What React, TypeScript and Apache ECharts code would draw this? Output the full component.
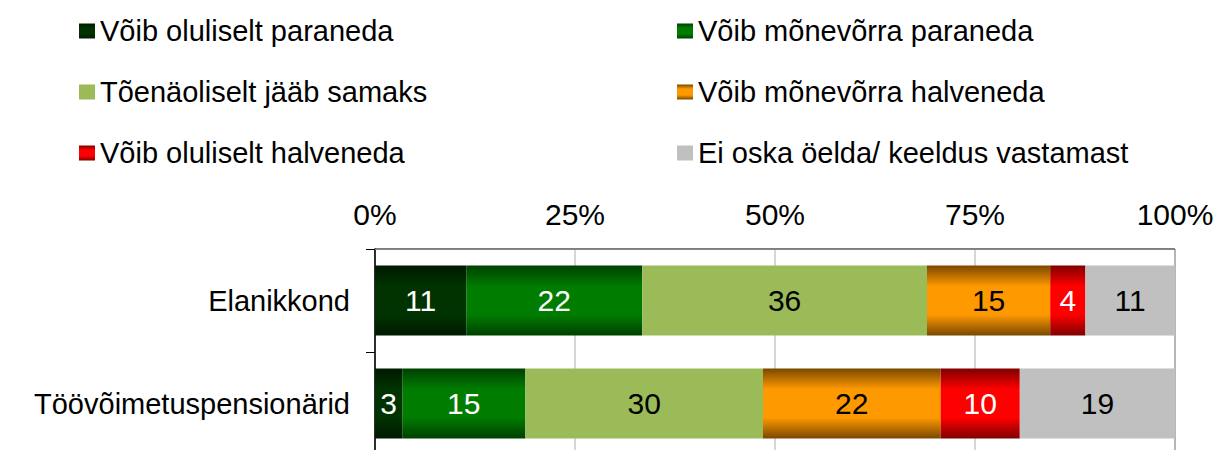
import React, { useEffect, useRef } from "react";
import * as echarts from "echarts";

const categories = ["Elanikkond", "Töövõimetuspensionärid"];
const seriesNames = [
  "Võib oluliselt paraneda",
  "Võib mõnevõrra paraneda",
  "Tõenäoliselt jääb samaks",
  "Võib mõnevõrra halveneda",
  "Võib oluliselt halveneda",
  "Ei oska öelda/ keeldus vastamast",
];
const oluliseltParaneda = [11.4, 3.4];
const monevorraParaneda = [22.0, 15.4];
const jaabSamaks = [35.6, 29.7];
const monevorraHalveneda = [15.4, 22.2];
const oluliseltHalveneda = [4.4, 9.9];
const eiOska = [11.2, 19.4];
const xTicks = [0, 25, 50, 75, 100];

const FONT = "'Liberation Sans', Arial, sans-serif";

function grad(edge: string, mid: string) {
  return new echarts.graphic.LinearGradient(0, 0, 0, 1, [
    { offset: 0, color: edge },
    { offset: 0.3, color: mid },
    { offset: 0.7, color: mid },
    { offset: 1, color: edge },
  ]);
}

export default function App() {
  const ref = useRef<HTMLDivElement>(null);
  useEffect(() => {
    if (!ref.current) return;
    const chart = echarts.init(ref.current, undefined, { renderer: "svg" });
    const values = [
      oluliseltParaneda,
      monevorraParaneda,
      jaabSamaks,
      monevorraHalveneda,
      oluliseltHalveneda,
      eiOska,
    ];
    const colors = [
      grad("#001a00", "#003300"),
      grad("#003f00", "#007d00"),
      "#9bbb59",
      grad("#7a4800", "#ff9900"),
      grad("#7f0000", "#ff0000"),
      "#c0c0c0",
    ];
    const labelColors = ["#fff", "#fff", "#000", "#000", "#fff", "#000"];
    const legendText = {
      fontSize: 29,
      lineHeight: 30,
      color: "#000",
      fontFamily: FONT,
    };
    chart.setOption({
      animation: false,
      textStyle: { fontFamily: FONT },
      legend: [
        {
          orient: "vertical",
          left: 74,
          top: 11,
          itemWidth: 16,
          itemHeight: 15,
          itemGap: 31,
          icon: "rect",
          textStyle: legendText,
          data: [seriesNames[0], seriesNames[2], seriesNames[4]],
        },
        {
          orient: "vertical",
          left: 672,
          top: 11,
          itemWidth: 16,
          itemHeight: 15,
          itemGap: 31,
          icon: "rect",
          textStyle: legendText,
          data: [seriesNames[1], seriesNames[3], seriesNames[5]],
        },
      ],
      grid: {
        left: 375,
        right: 42,
        top: 249,
        bottom: 5,
        show: true,
        borderColor: "#000",
        borderWidth: 1,
        containLabel: false,
      },
      xAxis: {
        type: "value",
        position: "top",
        min: xTicks[0],
        max: xTicks[xTicks.length - 1],
        interval: 25,
        axisLine: { show: true, lineStyle: { color: "#868686", width: 1 } },
        axisTick: { show: false },
        axisLabel: {
          formatter: "{value}%",
          fontSize: 30,
          color: "#000",
          margin: 20,
          fontFamily: FONT,
        },
        splitLine: { show: true, lineStyle: { color: "#c8c8c8", width: 1.5 } },
      },
      yAxis: {
        type: "category",
        data: categories,
        inverse: true,
        axisLine: { show: true, lineStyle: { color: "#000", width: 1.5 } },
        axisTick: { show: true, length: 9, lineStyle: { color: "#000", width: 1 } },
        axisLabel: {
          fontSize: 29,
          color: "#000",
          margin: 25,
          fontFamily: FONT,
        },
        splitLine: { show: false },
      },
      series: seriesNames.map((name, i) => ({
        name,
        type: "bar",
        stack: "total",
        barWidth: 70,
        data: values[i],
        itemStyle: { color: colors[i] },
        label: {
          show: true,
          position: "inside",
          fontSize: 30,
          color: labelColors[i],
          fontFamily: FONT,
          formatter: (p: any) => String(Math.round(p.value)),
        },
      })),
    });
    return () => chart.dispose();
  }, []);
  return (
    <div
      ref={ref}
      style={{
        position: "fixed",
        left: 0,
        top: 0,
        width: 1217,
        height: 460,
        background: "#fff",
      }}
    />
  );
}
